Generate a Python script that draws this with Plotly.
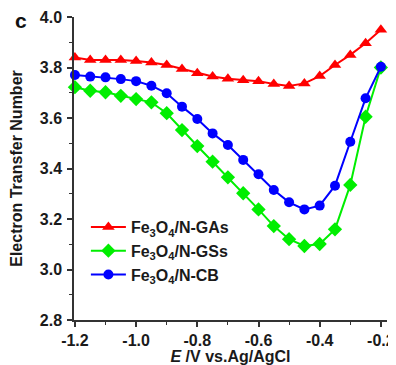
import plotly.graph_objects as go

potential = [-1.2, -1.15, -1.1, -1.05, -1.0, -0.95, -0.9, -0.85, -0.8, -0.75, -0.7,
             -0.65, -0.6, -0.55, -0.5, -0.45, -0.4, -0.35, -0.3, -0.25, -0.2]
n_gas = [3.84, 3.83, 3.83, 3.83, 3.826, 3.82, 3.81, 3.794, 3.777, 3.764, 3.755,
         3.75, 3.746, 3.735, 3.727, 3.737, 3.766, 3.81, 3.85, 3.896, 3.95]
n_gss = [3.722, 3.708, 3.702, 3.688, 3.675, 3.662, 3.619, 3.552, 3.489, 3.427, 3.365,
         3.302, 3.238, 3.172, 3.12, 3.093, 3.101, 3.159, 3.335, 3.605, 3.80]
n_cb = [3.77, 3.764, 3.761, 3.754, 3.746, 3.728, 3.698, 3.645, 3.596, 3.539, 3.493,
        3.434, 3.377, 3.315, 3.266, 3.238, 3.253, 3.332, 3.506, 3.678, 3.803]
series_names = ["Fe<sub>3</sub>O<sub>4</sub>/N-GAs",
                "Fe<sub>3</sub>O<sub>4</sub>/N-GSs",
                "Fe<sub>3</sub>O<sub>4</sub>/N-CB"]
x_ticks = [-1.2, -1.0, -0.8, -0.6, -0.4, -0.2]
y_ticks = [2.8, 3.0, 3.2, 3.4, 3.6, 3.8, 4.0]

FONT = "Liberation Sans, Arial, sans-serif"
TXT = "#1a1a1a"

fig = go.Figure()
styles = [("#FF0000", "triangle-up", 11), ("#00EE00", "diamond", 11), ("#0000FF", "circle", 10)]
for name, ys, (col, sym, sz) in zip(series_names, [n_gas, n_gss, n_cb], styles):
    fig.add_trace(go.Scatter(
        x=potential, y=ys, name=name, mode="lines+markers",
        line=dict(color=col, width=2),
        marker=dict(color=col, symbol=sym, size=sz),
        cliponaxis=False,
    ))

axis_common = dict(
    showline=True, linecolor="#333333", linewidth=1.5, mirror=False,
    ticks="outside", ticklen=5, tickwidth=1.5, tickcolor="#333333",
    showgrid=False, zeroline=False,
    tickfont=dict(family=FONT, size=16, color=TXT, weight="bold"),
)

fig.update_xaxes(
    range=[-1.203, -0.18], tickvals=x_ticks, ticktext=[f"{v:.1f}" for v in x_ticks],
    minor=dict(ticks="outside", ticklen=3, tickwidth=1.2, tickcolor="#333333", dtick=0.1,
               tick0=-1.2),
    ticklabelstandoff=0,
    title=dict(text="<i>E</i> /V vs.Ag/AgCl", standoff=8,
               font=dict(family=FONT, size=16, color=TXT, weight="bold")),
    **axis_common,
)
fig.update_yaxes(
    range=[2.8, 4.0], tickvals=y_ticks, ticktext=[f"{v:.1f}" for v in y_ticks],
    minor=dict(ticks="outside", ticklen=3, tickwidth=1.2, tickcolor="#333333", dtick=0.1,
               tick0=2.8),
    ticklabelstandoff=2,
    title=dict(text="Electron Transfer Number", standoff=14,
               font=dict(family=FONT, size=16, color=TXT, weight="bold")),
    **axis_common,
)

fig.add_annotation(text="<b>c</b>", xref="paper", yref="paper", x=-0.169, y=0.99,
                   xanchor="center", yanchor="middle", showarrow=False,
                   font=dict(family=FONT, size=21, color="#111111"))

# the page body adds an 8px offset; the figure is sized to compensate
fig.update_layout(
    width=388, height=357,
    margin=dict(l=66, r=9, t=9, b=45, autoexpand=False),
    paper_bgcolor="white", plot_bgcolor="white",
    showlegend=True,
    legend=dict(x=0.038, y=0.363, xanchor="left", yanchor="top",
                bgcolor="rgba(0,0,0,0)", tracegroupgap=0, itemwidth=35,
                font=dict(family=FONT, size=16, color=TXT, weight="bold")),
)

fig.write_html("out.html")
